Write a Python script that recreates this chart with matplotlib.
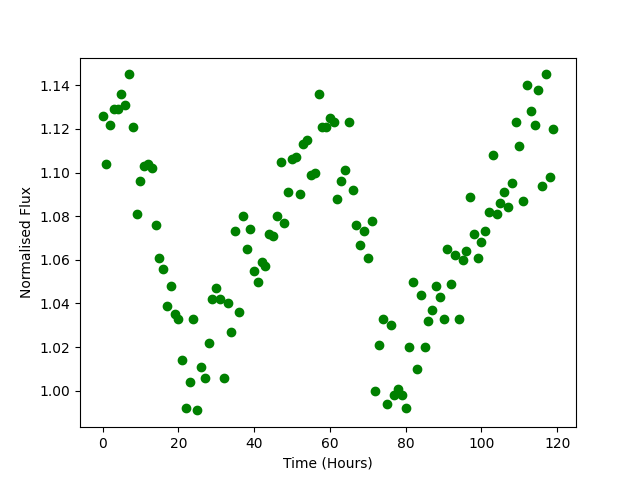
import numpy as np
import matplotlib
matplotlib.use("Agg")
import matplotlib.pyplot as plt

hours = list(range(120))
flux = [
    1.126, 1.104, 1.122, 1.129, 1.129, 1.136, 1.131, 1.145, 1.121, 1.081,
    1.096, 1.103, 1.104, 1.102, 1.076, 1.061, 1.056, 1.039, 1.048, 1.035,
    1.033, 1.014, 0.992, 1.004, 1.033, 0.991, 1.011, 1.006, 1.022, 1.042,
    1.047, 1.042, 1.006, 1.040, 1.027, 1.073, 1.036, 1.080, 1.065, 1.074,
    1.055, 1.050, 1.059, 1.057, 1.072, 1.071, 1.080, 1.105, 1.077, 1.091,
    1.106, 1.107, 1.090, 1.113, 1.115, 1.099, 1.100, 1.136, 1.121, 1.121,
    1.125, 1.123, 1.088, 1.096, 1.101, 1.123, 1.092, 1.076, 1.067, 1.073,
    1.061, 1.078, 1.000, 1.021, 1.033, 0.994, 1.030, 0.998, 1.001, 0.998,
    0.992, 1.020, 1.050, 1.010, 1.044, 1.020, 1.032, 1.037, 1.048, 1.043,
    1.033, 1.065, 1.049, 1.062, 1.033, 1.060, 1.064, 1.089, 1.072, 1.061,
    1.068, 1.073, 1.082, 1.108, 1.081, 1.086, 1.091, 1.084, 1.095, 1.123,
    1.112, 1.087, 1.140, 1.128, 1.122, 1.138, 1.094, 1.145, 1.098, 1.120,
]

fig, ax = plt.subplots(figsize=(6.4, 4.8), dpi=100)
ax.plot(hours, flux, 'o', color='green')
ax.set_xlabel('Time (Hours)')
ax.set_ylabel('Normalised Flux')
fig.savefig('out.png')
